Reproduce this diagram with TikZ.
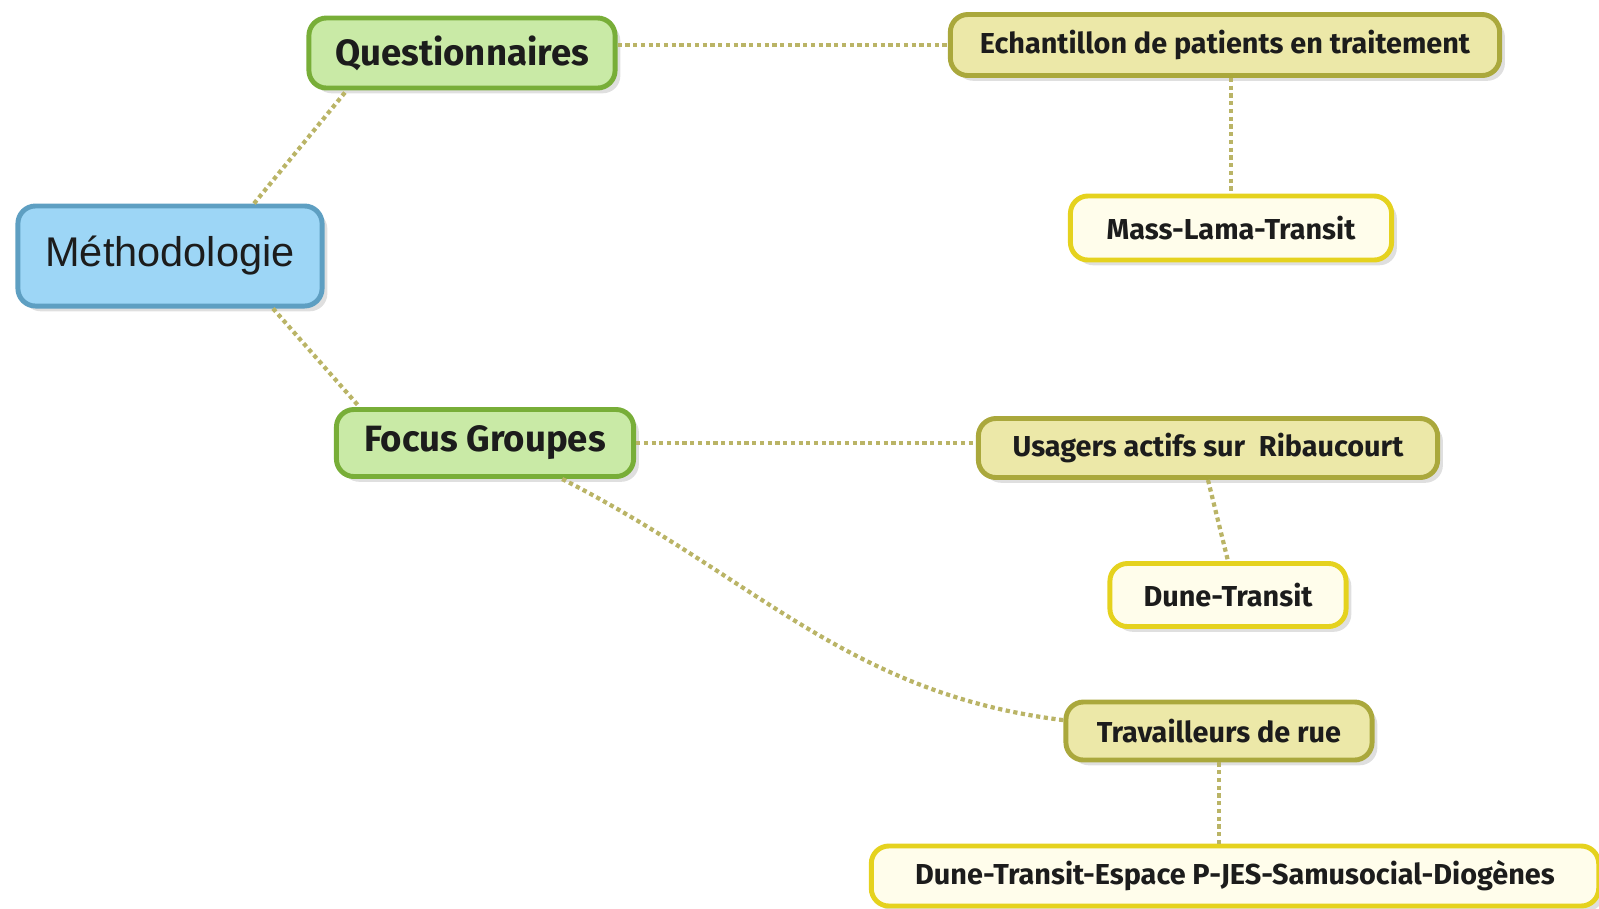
\documentclass[tikz,border=0pt]{standalone}
\usepackage{fontspec}
\setmainfont{Fira Sans}
\setsansfont{Liberation Sans}
\usetikzlibrary{shadows}

\definecolor{rootfill}{HTML}{9DD6F6}
\definecolor{rootline}{HTML}{5E9FC2}
\definecolor{mainfill}{HTML}{C9EAA6}
\definecolor{mainline}{HTML}{78AE38}
\definecolor{subfill}{HTML}{ECE8A8}
\definecolor{subline}{HTML}{AAA83C}
\definecolor{leaffill}{HTML}{FFFDEB}
\definecolor{leafline}{HTML}{E5D21E}
\definecolor{linkcol}{HTML}{BAB466}
\definecolor{txt}{HTML}{1C1C1C}

\begin{document}
\begin{tikzpicture}[x=0.01cm,y=-0.01cm,
    box/.style={draw, line width=1.4pt, rounded corners=5pt, inner sep=0pt, text=txt,
        drop shadow={opacity=0.25, shadow xshift=1.5pt, shadow yshift=-1.5pt}},
    rootbox/.style={box, fill=rootfill, draw=rootline, font=\sffamily\fontsize{11.8}{14}\selectfont},
    mainbox/.style={box, fill=mainfill, draw=mainline, font=\bfseries\fontsize{10.4}{12}\selectfont},
    subbox/.style={box, fill=subfill, draw=subline, font=\bfseries\fontsize{8.2}{10}\selectfont},
    leafbox/.style={box, fill=leaffill, draw=leafline, font=\bfseries\fontsize{8.2}{10}\selectfont},
    link/.style={densely dotted, line width=1.2pt, draw=linkcol}]

    \useasboundingbox (0,0) rectangle (1599,908);

    % root
    \node[rootbox, minimum width=3.04cm, minimum height=1.0cm] (meth) at (170,256) {Méthodologie};

    % first level
    \node[mainbox, minimum width=3.06cm, minimum height=0.70cm] (quest) at (462,53) {Questionnaires};
    \node[mainbox, minimum width=2.97cm, minimum height=0.67cm] (focus) at (485,443) {Focus Groupes};

    % second level
    \node[subbox, minimum width=5.49cm, minimum height=0.61cm] (echant) at (1225,45) {Echantillon de patients en traitement};
    \node[subbox, minimum width=4.59cm, minimum height=0.59cm] (usagers) at (1208,448) {Usagers actifs sur~~Ribaucourt};
    \node[subbox, minimum width=3.06cm, minimum height=0.58cm] (trav) at (1219,731) {Travailleurs de rue};

    % leaves
    \node[leafbox, minimum width=3.21cm, minimum height=0.64cm] (mass) at (1231,228) {Mass-Lama-Transit};
    \node[leafbox, minimum width=2.36cm, minimum height=0.63cm] (dune) at (1228,595) {Dune-Transit};
    \node[leafbox, minimum width=7.27cm, minimum height=0.60cm] (dunefull) at (1235,876) {Dune-Transit-Espace P-JES-Samusocial-Diogènes};

    % links
    \draw[link] (meth.32) -- (quest.198);
    \draw[link] (meth.333) -- (focus.164);
    \draw[link] (quest.east |- echant.west) -- (echant.west);
    \draw[link] (mass.north |- echant.south) -- (mass.north);
    \draw[link] (focus.east) -- (focus.east -| usagers.west);
    \draw[link] (usagers.south) -- (dune.north);
    \draw[link] (focus.335) to[out=-27,in=173] (trav.176);
    \draw[link] (trav.south) -- (trav.south |- dunefull.north);

\end{tikzpicture}
\end{document}
